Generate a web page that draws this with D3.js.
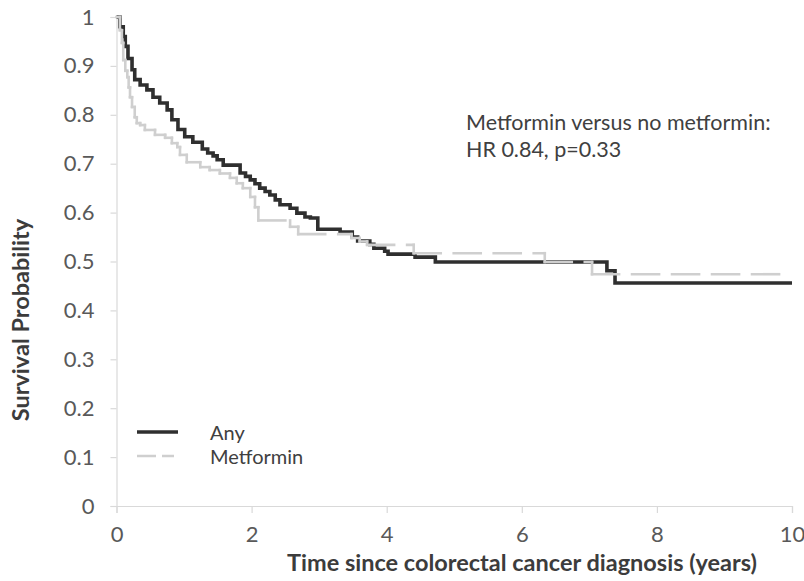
<!DOCTYPE html>
<html>
<head>
<meta charset="utf-8">
<script src="https://cdn.jsdelivr.net/npm/d3@7"></script>
<style>
  html, body { margin: 0; padding: 0; background: #ffffff; }
  svg { display: block; font-family: Lato, "Open Sans", sans-serif; }
</style>
</head>
<body>
<svg id="chart" width="804" height="581"></svg>
<script>
// Kaplan-Meier step points: time (years) at which survival drops, and survival after the drop
const anyTime = [0, 0.05, 0.10, 0.13, 0.17, 0.23, 0.27, 0.35, 0.45, 0.54, 0.64, 0.75, 0.82, 0.91, 1.01, 1.13, 1.27, 1.35, 1.43, 1.49, 1.58, 1.83, 1.91, 1.98, 2.05, 2.12, 2.20, 2.27, 2.35, 2.42, 2.57, 2.67, 2.79, 2.87, 2.98, 3.31, 3.49, 3.57, 3.75, 3.81, 3.97, 4.02, 4.42, 4.72, 7.26, 7.38];
const anySurv = [1.0, 0.98, 0.96, 0.94, 0.915, 0.892, 0.872, 0.861, 0.851, 0.836, 0.824, 0.81, 0.79, 0.77, 0.755, 0.744, 0.73, 0.722, 0.716, 0.708, 0.697, 0.681, 0.674, 0.667, 0.659, 0.65, 0.643, 0.636, 0.626, 0.616, 0.609, 0.599, 0.591, 0.589, 0.566, 0.56, 0.55, 0.542, 0.535, 0.527, 0.521, 0.515, 0.509, 0.499, 0.481, 0.456];

const metTime = [0, 0.05, 0.08, 0.10, 0.13, 0.16, 0.18, 0.20, 0.23, 0.27, 0.30, 0.35, 0.42, 0.57, 0.72, 0.82, 0.90, 0.94, 1.04, 1.24, 1.38, 1.53, 1.68, 1.78, 1.87, 1.98, 2.05, 2.10, 2.57, 2.69, 3.48, 3.60, 3.71, 4.40, 6.34, 7.04];
const metSurv = [1.0, 0.973, 0.947, 0.912, 0.89, 0.877, 0.856, 0.836, 0.816, 0.795, 0.783, 0.779, 0.769, 0.759, 0.753, 0.742, 0.734, 0.718, 0.703, 0.693, 0.687, 0.68, 0.671, 0.66, 0.65, 0.632, 0.611, 0.584, 0.571, 0.556, 0.548, 0.541, 0.534, 0.517, 0.499, 0.474];

const xTicks = [0, 2, 4, 6, 8, 10];
const yTicks = [0, 0.1, 0.2, 0.3, 0.4, 0.5, 0.6, 0.7, 0.8, 0.9, 1];
const seriesNames = ["Any", "Metformin"];
const noteLines = ["Metformin versus no metformin:", "HR 0.84, p=0.33"];
const xTitle = "Time since colorectal cancer diagnosis (years)";
const yTitle = "Survival Probability";
const tMax = 10;

const svg = d3.select("#chart");
const x = d3.scaleLinear().domain([0, 10]).range([116.5, 792]);
const y = d3.scaleLinear().domain([0, 1]).range([506, 17]);

const axisColor = "#d9d9d9";
const tickText = "#595959";
const darkLine = "#2f2f2f";
const lightLine = "#cfcfcf";
const font = "Lato, sans-serif";

// Y axis
const yAxis = svg.append("g")
  .attr("transform", `translate(${x(0)},0)`)
  .call(d3.axisLeft(y).tickValues(yTicks).tickSize(6).tickPadding(16)
    .tickFormat(d => d === 0 || d === 1 ? d3.format("d")(d) : d3.format(".1f")(d)));
yAxis.select(".domain").attr("stroke", axisColor).attr("stroke-width", 1.2);
yAxis.selectAll(".tick line").attr("stroke", axisColor).attr("stroke-width", 1.2);
yAxis.selectAll(".tick text").attr("fill", tickText).attr("font-size", 22).attr("font-family", font);

// X axis
const xAxis = svg.append("g")
  .attr("transform", `translate(0,${y(0)})`)
  .call(d3.axisBottom(x).tickValues(xTicks).tickSize(7).tickPadding(13).tickFormat(d3.format("d")));
xAxis.select(".domain").attr("stroke", axisColor).attr("stroke-width", 1.2);
xAxis.selectAll(".tick line").attr("stroke", axisColor).attr("stroke-width", 1.2);
xAxis.selectAll(".tick text").attr("fill", tickText).attr("font-size", 22).attr("font-family", font);

// Axis titles
svg.append("text")
  .attr("x", 522).attr("y", 571)
  .attr("text-anchor", "middle")
  .attr("font-size", 23.5).attr("font-weight", "bold").attr("fill", "#3c3c3c")
  .text(xTitle);
svg.append("text")
  .attr("transform", "translate(29,320) rotate(-90)")
  .attr("text-anchor", "middle")
  .attr("font-size", 23.5).attr("font-weight", "bold").attr("fill", "#3c3c3c")
  .text(yTitle);

// "Any" curve: one continuous step line to the end of follow-up
const anyPts = anyTime.map((t, i) => [t, anySurv[i]]);
anyPts.push([tMax, anySurv[anySurv.length - 1]]);
const stepLine = d3.line().x(d => x(d[0])).y(d => y(d[1])).curve(d3.curveStepAfter);
svg.append("path")
  .datum(anyPts)
  .attr("fill", "none")
  .attr("stroke", darkLine)
  .attr("stroke-width", 3.6)
  .attr("d", stepLine);

// "Metformin" curve: every flat run and every drop is its own piece,
// so the dash pattern restarts at each vertex
const metSegs = [];
metTime.forEach((t, i) => {
  const last = i === metTime.length - 1;
  const tNext = last ? tMax : metTime[i + 1];
  metSegs.push([[t, metSurv[i]], [tNext, metSurv[i]]]);
  if (!last) metSegs.push([[tNext, metSurv[i]], [tNext, metSurv[i + 1]]]);
});
const plainLine = d3.line().x(d => x(d[0])).y(d => y(d[1]));
svg.append("g").selectAll("path")
  .data(metSegs)
  .join("path")
  .attr("fill", "none")
  .attr("stroke", lightLine)
  .attr("stroke-width", 2.6)
  .attr("stroke-linecap", "square")
  .attr("stroke-dasharray", "27,13")
  .attr("d", plainLine);

// Legend
const legend = svg.append("g");
const legendRows = [
  { name: seriesNames[0], color: darkLine, width: 3.6, dash: null, y: 432 },
  { name: seriesNames[1], color: lightLine, width: 2.6, dash: "19,6", y: 456 }
];
legendRows.forEach(r => {
  legend.append("line")
    .attr("x1", 137).attr("x2", r.dash ? 174 : 178)
    .attr("y1", r.y).attr("y2", r.y)
    .attr("stroke", r.color).attr("stroke-width", r.width)
    .attr("stroke-dasharray", r.dash);
  legend.append("text")
    .attr("x", 210).attr("y", r.y + 7.5)
    .attr("font-size", 20).attr("fill", "#404040")
    .text(r.name);
});

// Hazard ratio note
svg.append("g").selectAll("text")
  .data(noteLines)
  .join("text")
  .attr("x", 466)
  .attr("y", (d, i) => 130 + i * 27)
  .attr("font-size", 21.5).attr("fill", "#404040")
  .text(d => d);
</script>
</body>
</html>
